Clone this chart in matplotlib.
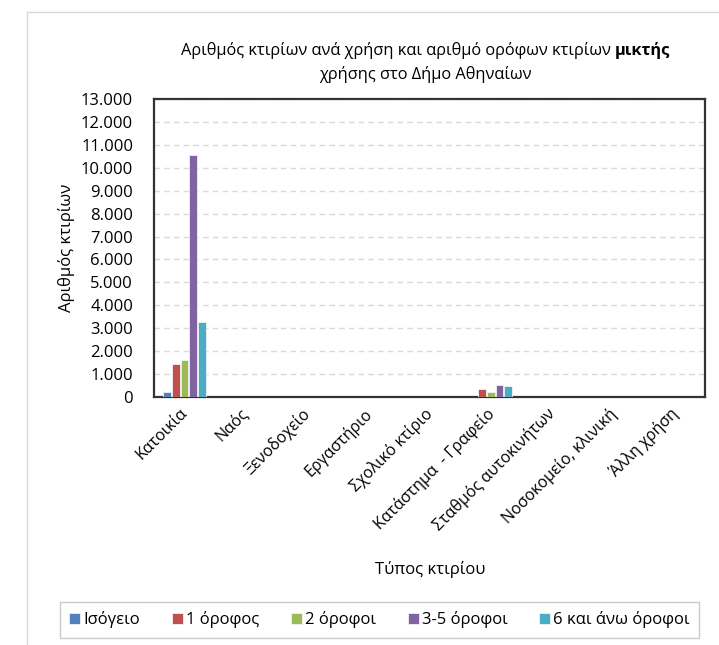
import numpy as np
import matplotlib.pyplot as plt
from matplotlib.ticker import FuncFormatter
from matplotlib.offsetbox import TextArea, HPacker, AnchoredOffsetbox
from matplotlib.lines import Line2D
from matplotlib.transforms import ScaledTranslation

plt.rcParams['font.family'] = ['Open Sans', 'DejaVu Sans']

categories = ["Κατοικία", "Ναός", "Ξενοδοχείο", "Εργαστήριο", "Σχολικό κτίριο",
              "Κατάστημα  - Γραφείο", "Σταθμός αυτοκινήτων", "Νοσοκομείο, κλινική",
              "Άλλη χρήση"]
series_names = ["Ισόγειο", "1 όροφος", "2 όροφοι", "3-5 όροφοι", "6 και άνω όροφοι"]
isogeio = [200, 2, 3, 4, 2, 20, 3, 2, 5]
orofos_1 = [1440, 5, 10, 15, 5, 340, 10, 5, 10]
orofoi_2 = [1610, 5, 10, 15, 5, 200, 10, 5, 10]
orofoi_3_5 = [10570, 10, 15, 20, 10, 520, 15, 10, 15]
orofoi_6 = [3290, 5, 10, 10, 5, 470, 10, 10, 10]
colors = ["#4F81BD", "#C0504D", "#9BBB59", "#8064A2", "#4BACC6"]

series = [isogeio, orofos_1, orofoi_2, orofoi_3_5, orofoi_6]

fig = plt.figure(figsize=(7.19, 6.45), dpi=100)
ax = fig.add_axes([0.214, 0.3845, 0.767, 0.462])

x = np.arange(len(categories))
width = 0.126
step = 0.142
for i, (vals, name, c) in enumerate(zip(series, series_names, colors)):
    ax.bar(x + (i - 2) * step, vals, width, color=c, label=name,
           edgecolor="#f2f2f2", linewidth=0.6, zorder=3)

ax.set_xlim(-0.5, len(categories) - 0.5)
ax.set_ylim(0, 13000)
ax.set_yticks(np.arange(0, 13001, 1000))
ax.yaxis.set_major_formatter(FuncFormatter(lambda v, p: f"{int(v):,}".replace(",", ".")))
ax.grid(axis="y", color="#d9d9d9", linestyle=(0, (4, 3)), linewidth=1, zorder=0)
ax.tick_params(axis="y", length=0, labelsize=12, colors="#000000", pad=15)
ax.tick_params(axis="x", length=0, pad=6)
ax.set_xticks(x)
ax.set_xticklabels(categories, rotation=45, ha="right", rotation_mode="anchor",
                   fontsize=11.5)
shift = ScaledTranslation(-5 / 100, 0, fig.dpi_scale_trans)
for lbl in ax.get_xticklabels():
    lbl.set_transform(lbl.get_transform() + shift)
for s in ax.spines.values():
    s.set_color("#333333")
    s.set_linewidth(1.6)

ax.set_ylabel("Αριθμός κτιρίων", fontsize=12, labelpad=4)
fig.text(0.598, 0.117, "Τύπος κτιρίου", ha="center", va="center", fontsize=12)

# title with one bold word
t1 = TextArea("Αριθμός κτιρίων ανά χρήση και αριθμό ορόφων κτιρίων ",
              textprops=dict(fontsize=11.8))
t2 = TextArea("μικτής", textprops=dict(fontsize=11.8, fontweight="bold"))
line1 = HPacker(children=[t1, t2], pad=0, sep=0, align="baseline")
box1 = AnchoredOffsetbox(loc="center", child=line1, frameon=False,
                         bbox_to_anchor=(0.592, 0.921), bbox_transform=fig.transFigure,
                         pad=0, borderpad=0)
fig.add_artist(box1)
fig.text(0.592, 0.884, "χρήσης στο Δήμο Αθηναίων", ha="center", va="center",
         fontsize=11.8)

leg = fig.legend(loc="center", bbox_to_anchor=(0.528, 0.039), ncol=5, frameon=True,
                 fancybox=False, edgecolor="#bfbfbf", fontsize=12,
                 handlelength=0.65, handleheight=0.65, handletextpad=0.2,
                 columnspacing=1.9, borderpad=0.55, borderaxespad=0)
leg.get_frame().set_linewidth(1.0)

# outer chart border
fig.add_artist(Line2D([27 / 719, 27 / 719], [0, 1 - 12 / 645],
                      transform=fig.transFigure, color="#d9d9d9", lw=1))
fig.add_artist(Line2D([27 / 719, 1], [1 - 12 / 645, 1 - 12 / 645],
                      transform=fig.transFigure, color="#d9d9d9", lw=1))

fig.savefig("out.png", dpi=100)
